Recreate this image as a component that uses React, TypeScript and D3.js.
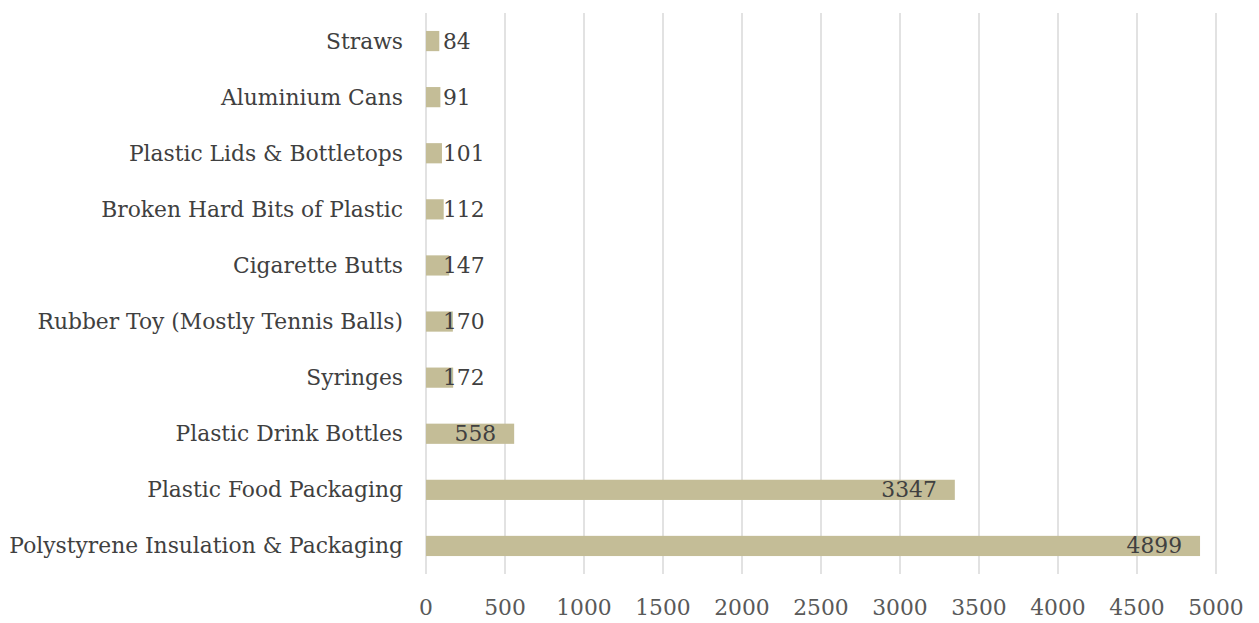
import React from "react";
import * as d3 from "d3";

// Litter items counted, top to bottom
const categories = [
  "Straws",
  "Aluminium Cans",
  "Plastic Lids & Bottletops",
  "Broken Hard Bits of Plastic",
  "Cigarette Butts",
  "Rubber Toy (Mostly Tennis Balls)",
  "Syringes",
  "Plastic Drink Bottles",
  "Plastic Food Packaging",
  "Polystyrene Insulation & Packaging",
];
const counts = [84, 91, 101, 112, 147, 170, 172, 558, 3347, 4899];
const xTicks = [0, 500, 1000, 1500, 2000, 2500, 3000, 3500, 4000, 4500, 5000];

const W = 1259;
const H = 623;
const FONT = "'DejaVu Serif', serif";
const FONT_SIZE = 21.8;

let ctx: CanvasRenderingContext2D | null = null;
function textWidth(s: string): number {
  if (!ctx) ctx = document.createElement("canvas").getContext("2d");
  if (!ctx) return s.length * 13.5;
  ctx.font = `${FONT_SIZE}px 'DejaVu Serif'`;
  return ctx.measureText(s).width;
}

export default function App() {
  const x = d3.scaleLinear().domain([0, 5000]).range([426, 1216]);
  const y = d3
    .scaleBand<string>()
    .domain(categories)
    .range([13, 574])
    .paddingInner(0.64)
    .paddingOuter(0.32);
  const bw = y.bandwidth();
  const x0 = x(0);
  const pad = 18;

  return (
    <svg
      width={W}
      height={H}
      style={{ position: "absolute", left: 0, top: 0, background: "#fff" }}
      fontFamily={FONT}
      fontSize={FONT_SIZE}
    >
      {xTicks.map((t) => (
        <line
          key={t}
          x1={x(t)}
          x2={x(t)}
          y1={13}
          y2={574}
          stroke="#d9d9d9"
          strokeWidth={1.5}
        />
      ))}
      {categories.map((c, i) => {
        const yy = y(c)!;
        const cy = yy + bw / 2;
        const v = counts[i];
        const end = x(v);
        const label = String(v);
        const tw = textWidth(label);
        let lx = end - pad - tw;
        if (lx < x0 + 17) lx = x0 + 17;
        return (
          <g key={c}>
            <rect x={x0} y={yy} width={end - x0} height={bw} fill="#c4bd97" />
            <text
              x={403}
              y={cy}
              textAnchor="end"
              dominantBaseline="central"
              fill="#404040"
            >
              {c}
            </text>
            <text x={lx} y={cy} dominantBaseline="central" fill="#404040">
              {label}
            </text>
          </g>
        );
      })}
      {xTicks.map((t) => (
        <text
          key={t}
          x={x(t)}
          y={607}
          textAnchor="middle"
          dominantBaseline="central"
          fill="#595959"
        >
          {t}
        </text>
      ))}
    </svg>
  );
}
